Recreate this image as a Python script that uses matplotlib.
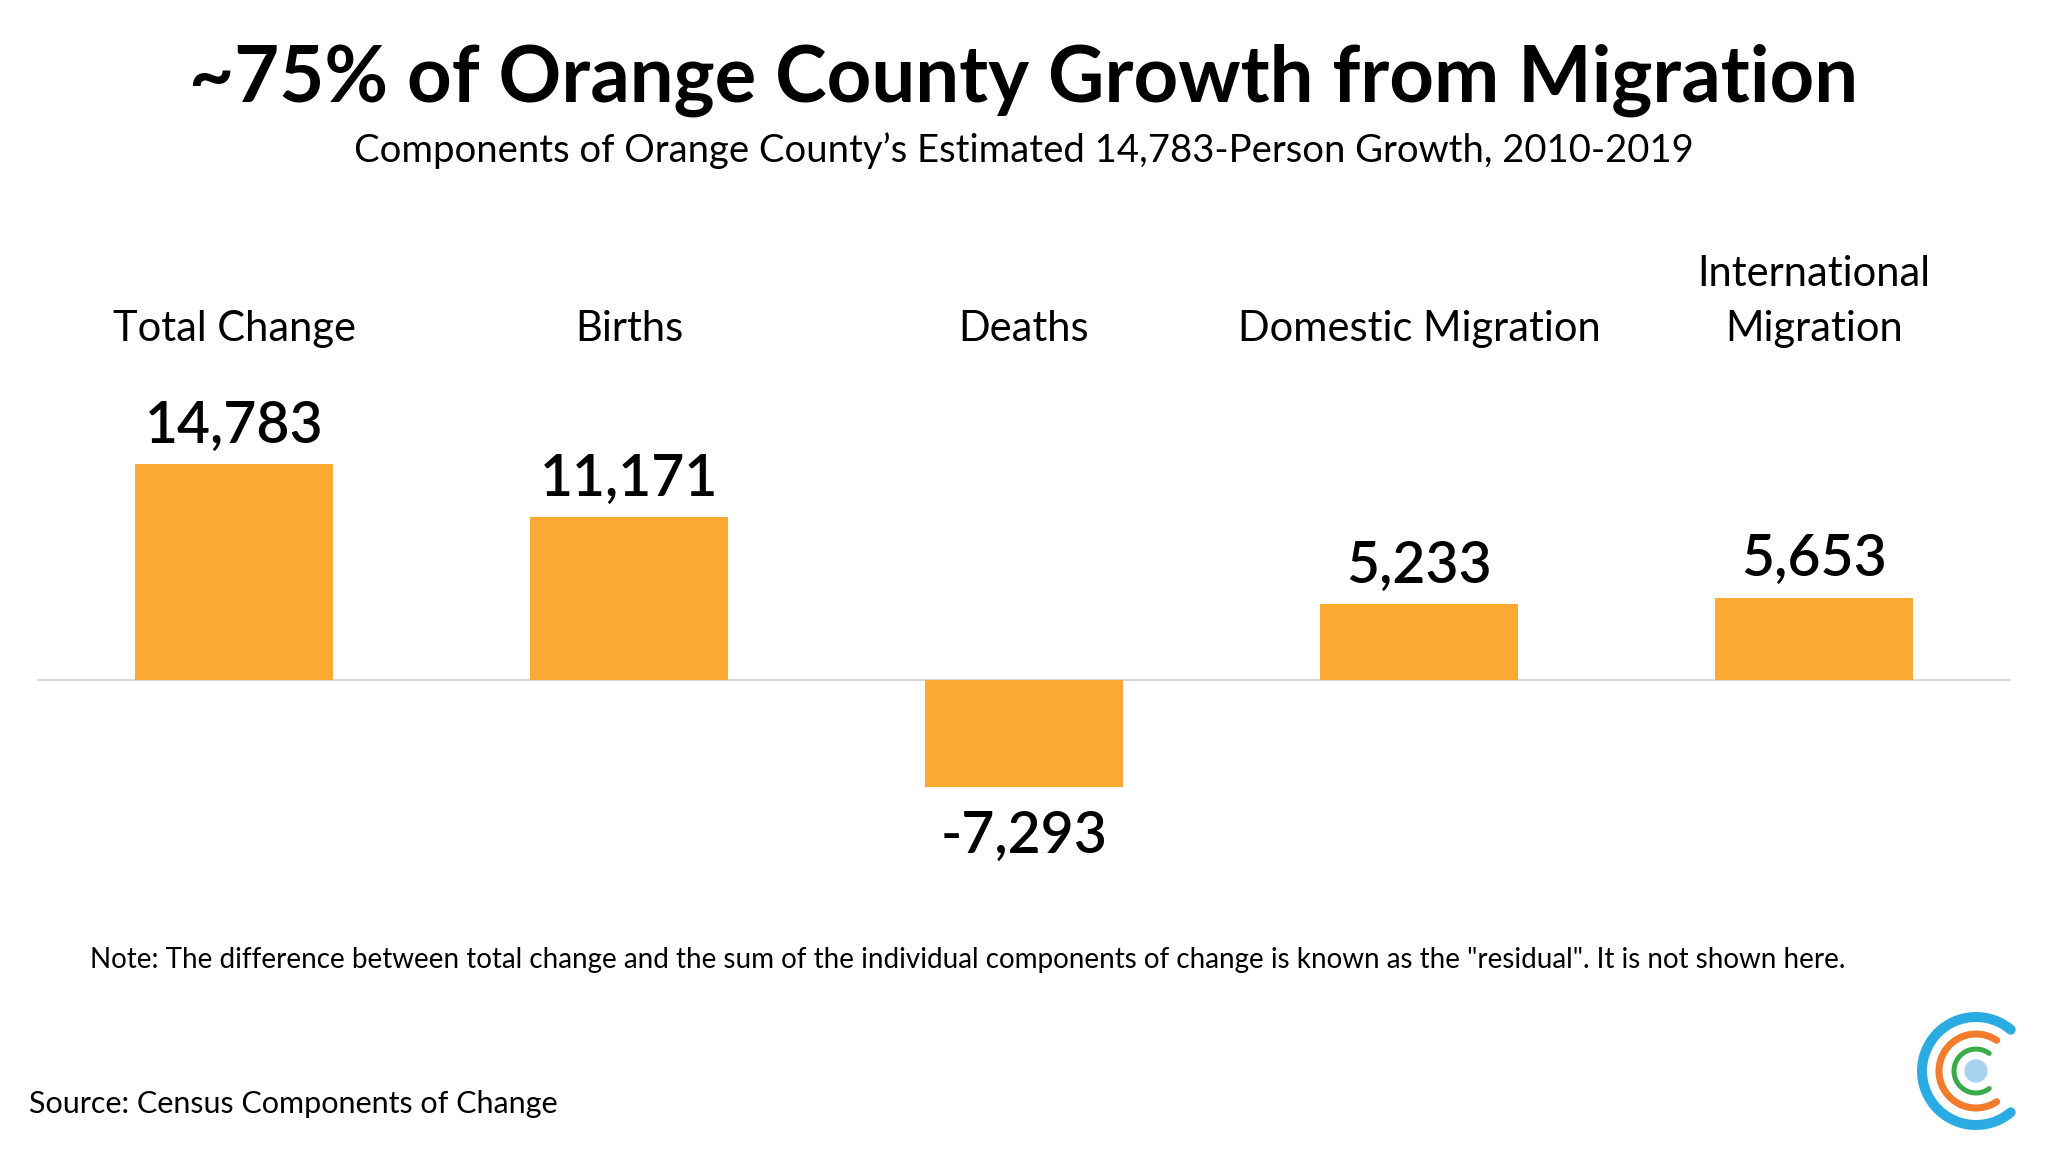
import numpy as np
import matplotlib
matplotlib.use('Agg')
import matplotlib.pyplot as plt

categories = ['Total Change', 'Births', 'Deaths', 'Domestic Migration', 'International\nMigration']
values = [14783, 11171, -7293, 5233, 5653]
value_labels = ['14,783', '11,171', '-7,293', '5,233', '5,653']

TITLE = '~75% of Orange County Growth from Migration'
SUBTITLE = 'Components of Orange County\u2019s Estimated 14,783-Person Growth, 2010-2019'
NOTE = ('Note: The difference between total change and the sum of the individual components '
        'of change is known as the "residual". It is not shown here.')
SOURCE = 'Source: Census Components of Change'

_BAR_COLOR = '#FCA934'
_FONT = 'Lato'

plt.rcParams['font.family'] = [_FONT, 'DejaVu Sans']

W, H = 2048, 1152
fig = plt.figure(figsize=(W / 100, H / 100), dpi=100)
fig.patch.set_facecolor('white')

# main bar axes
ax = fig.add_axes([0.0179, 0.229, 0.9642, 0.431])
x = np.arange(len(categories))
ax.bar(x, values, width=0.5, color=_BAR_COLOR, zorder=2)
ax.axhline(0, color='#D9D9D9', linewidth=1.5, zorder=1)
ax.set_xlim(-0.5, 4.5)
ax.set_ylim(-14158, 19680)
ax.axis('off')

for xi, v, lab in zip(x, values, value_labels):
    if v >= 0:
        ax.annotate(lab, xy=(xi, v), xytext=(0, 8), textcoords='offset points',
                    ha='center', va='bottom', fontsize=41, fontweight='semibold')
    else:
        ax.annotate(lab, xy=(xi, v), xytext=(0, -16), textcoords='offset points',
                    ha='center', va='top', fontsize=41, fontweight='semibold')

# category labels above plot (bottom line aligned)
for xi, cat in zip(x, categories):
    fx = 0.0179 + 0.9642 * (xi + 0.5) / 5.0
    fig.text(fx, 1 - 261 / 882, cat, ha='center', va='baseline', fontsize=30,
             linespacing=1.55)

fig.text(0.5, 1 - 78 / 882, TITLE, ha='center', va='baseline', fontsize=56, fontweight='bold')
fig.text(0.5, 1 - 124 / 882, SUBTITLE, ha='center', va='baseline', fontsize=27.5)
fig.text(69 / 1568, 1 - 741 / 882, NOTE, ha='left', va='baseline', fontsize=20)
fig.text(22 / 1568, 1 - 852 / 882, SOURCE, ha='left', va='baseline', fontsize=22)

# logo
cx, cy, box = 1976, 1071, 150
lax = fig.add_axes([(cx - box / 2) / W, (H - cy - box / 2) / H, box / W, box / H])
lax.set_xlim(-box / 2, box / 2)
lax.set_ylim(-box / 2, box / 2)
lax.set_aspect('equal')
lax.axis('off')
for r, a0, lw, col in [(54, 50, 10, '#2AACE2'), (37, 56, 7, '#F27B2C'), (22, 53, 5, '#3BAA4A')]:
    t = np.radians(np.linspace(a0, 360 - a0, 200))
    lax.plot(r * np.cos(t), r * np.sin(t), color=col, linewidth=lw * 0.72,
             solid_capstyle='round')
lax.add_patch(plt.Circle((0, 0), 11, color='#A9D2F1'))

plt.savefig('out.png', dpi=100, facecolor='white')
plt.close()
